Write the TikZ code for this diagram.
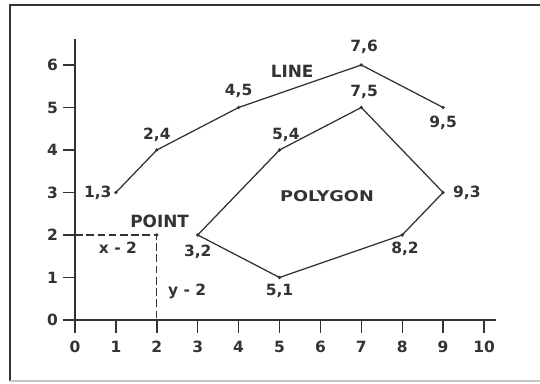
\documentclass[tikz,border=0pt]{standalone}
\usepackage{fontspec}
\setmainfont{DejaVu Sans}
\usetikzlibrary{positioning}
\definecolor{ink}{HTML}{333333}
\tikzset{
  lbl/.style={font=\bfseries\fontsize{11}{13}\selectfont, text=ink, inner sep=1pt},
  tag/.style={font=\bfseries\fontsize{12}{14}\selectfont, text=ink, inner sep=1pt},
  edge/.style={draw=ink, line width=0.9pt},
  guide/.style={draw=ink, line width=0.9pt, dash pattern=on 5.5pt off 2.5pt},
}

\begin{document}
\begin{tikzpicture}[x=1.0225cm, y=1.0625cm]
    \useasboundingbox (-1.834,-1.506) rectangle (11.369,7.529);

    % frame
    \draw[ink, line width=1.5pt] (11.6,7.41) -- (-1.589,7.41) -- (-1.589,-1.435);
    \draw[gray!45, line width=1pt] (-1.589,-1.435) -- (11.6,-1.435);

    % axes
    \coordinate (o) at (0,0);
    \coordinate (xend) at (10.3,0);
    \coordinate (yend) at (0,6.6);
    \draw[ink, line width=1.3pt] (o) -- (xend);
    \draw[ink, line width=1.3pt] (o) -- (yend);

    % ticks
    \foreach \i in {0,...,10} {
      \draw[ink, line width=1pt] (\i,0) -- (\i,-0.3);
      \node[lbl] (xt\i) at (\i,-0.64) {\i};
    }
    \foreach \j in {0,...,6} {
      \draw[ink, line width=1pt] (0,\j) -- (-0.29,\j);
      \node[lbl] (yt\j) at (-0.55,\j) {\j};
    }

    % point
    \coordinate (pt) at (2,2);
    \coordinate (ptx) at (0,2);
    \coordinate (pty) at (2,0);
    \draw[guide] (ptx) -- (pt) -- (pty);
    \fill[ink] (pt) circle (1.3pt);
    \node[tag, above=4pt of pt, xshift=2pt] (pointlbl) {POINT};
    \node[lbl] (xeq) at (1.05,1.69) {x - 2};
    \node[lbl] (yeq) at (2.74,0.68) {y - 2};

    % line
    \coordinate (l13) at (1,3);
    \coordinate (l24) at (2,4);
    \coordinate (l45) at (4,5);
    \coordinate (l76) at (7,6);
    \coordinate (l95) at (9,5);
    \draw[edge] (l13) -- (l24) -- (l45) -- (l76) -- (l95);
    \foreach \p in {l13,l24,l45,l76,l95} \fill[ink] (\p) circle (1.3pt);
    \node[lbl, left=2pt of l13] {1,3};
    \node[lbl, above=5pt of l24] {2,4};
    \node[lbl, above=5.5pt of l45] {4,5};
    \node[lbl, above=7pt of l76, xshift=2pt] {7,6};
    \node[lbl, below=5pt of l95] {9,5};
    \node[tag] (linelbl) at (5.31,5.86) {LINE};

    % polygon
    \coordinate (p32) at (3,2);
    \coordinate (p54) at (5,4);
    \coordinate (p75) at (7,5);
    \coordinate (p93) at (9,3);
    \coordinate (p82) at (8,2);
    \coordinate (p51) at (5,1);
    \draw[edge] (p32) -- (p54) -- (p75) -- (p93) -- (p82) -- (p51) -- cycle;
    \foreach \p in {p32,p54,p75,p93,p82,p51} \fill[ink] (\p) circle (1.3pt);
    \node[lbl, below=6pt of p32] {3,2};
    \node[lbl, above=5pt of p54, xshift=4.5pt] {5,4};
    \node[lbl, above=5pt of p75, xshift=2pt] {7,5};
    \node[lbl, right=6pt of p93] {9,3};
    \node[lbl, below=4pt of p82, xshift=2pt] {8,2};
    \node[lbl, below=3.5pt of p51] {5,1};
    \node[lbl, font=\bfseries\fontsize{10.5}{12}\selectfont] (polylbl) at (6.16,2.92) {\scalebox{1.2}[1]{POLYGON}};
\end{tikzpicture}
\end{document}
